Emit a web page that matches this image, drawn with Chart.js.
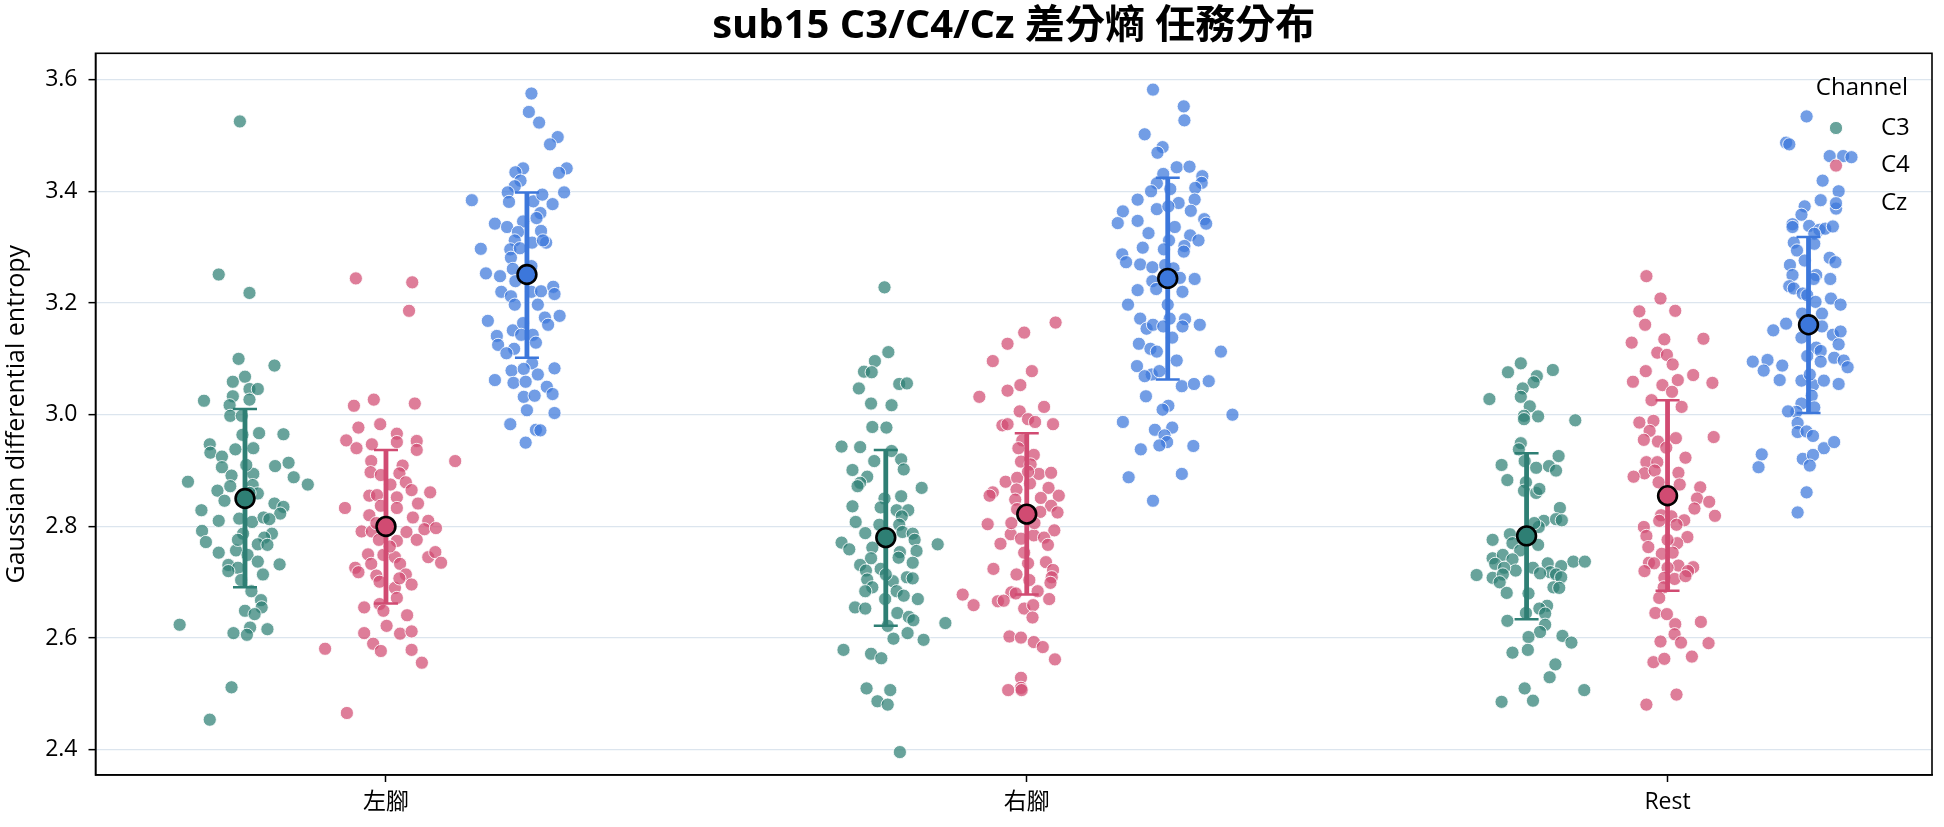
<!DOCTYPE html>
<html><head><meta charset="utf-8">
<script src="https://cdn.jsdelivr.net/npm/chart.js@4.4.1/dist/chart.umd.min.js"></script>
<style>html,body{margin:0;padding:0;background:#fff;}</style>
</head><body>
<canvas id="c" width="1944" height="827"></canvas>
<script>
// ---------------- data ----------------
const categories = ['左腳', '右腳', 'Rest'];
const channels = ['C3', 'C4', 'Cz'];
const yTicks = [2.4, 2.6, 2.8, 3.0, 3.2, 3.4, 3.6];
const titleText = 'sub15 C3/C4/Cz 差分熵 任務分布';
const yLabel = 'Gaussian differential entropy';
const legendTitle = 'Channel';

// each point: [jitter offset (category units), value]
const leftC3 = [
[-0.008,3.525],[-0.041,3.251],[0.007,3.218],[-0.010,3.100],[0.046,3.088],[-0.019,3.059],[0,3.068],[0.007,3.046],[0.020,3.046],[-0.019,3.033],
[-0.064,3.025],[-0.024,3.017],[0.007,3.027],[-0.023,2.998],[-0.005,2.998],[-0.004,2.964],[0.022,2.967],[0.060,2.965],[-0.055,2.947],[-0.054,2.932],
[-0.036,2.925],[-0.015,2.938],[0.013,2.940],[-0.036,2.906],[0.047,2.908],[0.068,2.914],[-0.089,2.880],[-0.021,2.891],[0.013,2.894],[0.076,2.888],
[0.098,2.875],[-0.043,2.864],[-0.023,2.872],[0.012,2.874],[0.020,2.859],[-0.032,2.846],[-0.068,2.829],[0.046,2.841],[0.060,2.835],[0.055,2.823],
[-0.041,2.810],[-0.009,2.814],[0.011,2.808],[0.029,2.816],[0.038,2.813],[-0.067,2.792],[-0.061,2.772],[-0.003,2.787],[0.042,2.787],[0.030,2.780],
[0.020,2.768],[0.035,2.767],[-0.041,2.753],[-0.014,2.757],[0.004,2.749],[0.020,2.737],[0.054,2.732],[-0.026,2.731],[-0.011,2.726],[-0.026,2.720],
[0.028,2.714],[-0.006,2.704],[0.010,2.684],[0.025,2.668],[0,2.649],[0.026,2.655],[0.015,2.643],[-0.102,2.624],[0.008,2.619],[-0.018,2.609],
[0.003,2.606],[0.035,2.616],[-0.021,2.512],[-0.055,2.454],[-0.011,2.776],[0.002,2.910],[0.007,2.860]
];
const leftC4 = [
[-0.047,3.244],[0.041,3.237],[0.036,3.186],[-0.050,3.016],[-0.019,3.027],[0.045,3.020],[-0.043,2.977],[-0.009,2.983],[0.017,2.966],[-0.062,2.954],
[-0.046,2.940],[-0.022,2.947],[0.017,2.951],[0.048,2.953],[0.048,2.937],[-0.023,2.917],[0.108,2.917],[0.026,2.909],[-0.024,2.897],[-0.008,2.892],
[0.021,2.895],[0.031,2.879],[0.007,2.875],[0.040,2.865],[0.069,2.861],[-0.026,2.855],[-0.014,2.856],[0.017,2.852],[-0.064,2.833],[-0.008,2.837],
[0.017,2.833],[0.050,2.841],[-0.026,2.820],[0.042,2.816],[0.066,2.810],[-0.038,2.791],[-0.022,2.791],[0.032,2.790],[0.060,2.795],[0.078,2.797],
[-0.011,2.776],[0.017,2.774],[0.048,2.776],[-0.028,2.750],[-0.004,2.749],[0.014,2.745],[0.066,2.745],[0.077,2.754],[0.086,2.735],[-0.023,2.733],
[-0.048,2.726],[-0.043,2.718],[0.022,2.733],[-0.015,2.712],[0.031,2.714],[-0.010,2.701],[0.040,2.696],[0.014,2.690],[0.017,2.672],[-0.034,2.655],
[-0.010,2.661],[-0.004,2.649],[0.033,2.641],[0.001,2.622],[-0.034,2.609],[0.022,2.608],[0.040,2.612],[-0.095,2.581],[-0.020,2.590],[-0.008,2.577],
[0.040,2.579],[0.056,2.556],[-0.061,2.466],[0.006,2.764],[-0.015,2.806],[0.021,2.707]
];
const leftCz = [
[0.007,3.575],[0.003,3.542],[0.019,3.523],[0.048,3.497],[0.036,3.484],[-0.006,3.441],[0.062,3.441],[-0.018,3.434],[0.050,3.433],[-0.010,3.419],
[-0.019,3.409],[-0.086,3.384],[-0.030,3.398],[-0.028,3.381],[0.058,3.398],[0.010,3.382],[0.024,3.394],[0.040,3.377],[0.021,3.361],[0.015,3.352],
[-0.050,3.342],[-0.031,3.336],[-0.006,3.346],[0.022,3.329],[0.030,3.308],[-0.014,3.327],[0.008,3.308],[-0.019,3.312],[-0.026,3.296],[-0.011,3.298],
[-0.072,3.297],[-0.025,3.281],[-0.022,3.261],[-0.064,3.253],[-0.042,3.248],[-0.018,3.239],[-0.040,3.220],[-0.025,3.212],[0.007,3.220],[0.022,3.221],
[0.041,3.229],[0.043,3.216],[0.017,3.197],[-0.061,3.168],[0.028,3.174],[0.051,3.177],[0.033,3.161],[-0.047,3.141],[-0.045,3.125],[-0.022,3.151],
[-0.006,3.164],[-0.009,3.143],[0.009,3.143],[0.014,3.129],[-0.020,3.118],[-0.032,3.110],[0.008,3.092],[-0.024,3.079],[-0.005,3.082],[0.017,3.072],
[0.043,3.083],[-0.050,3.062],[-0.021,3.057],[-0.002,3.059],[0.031,3.050],[0.040,3.037],[-0.005,3.032],[0.012,3.034],[0,3.008],[0.043,3.003],
[-0.026,2.983],[0.014,2.973],[0.021,2.972],[-0.002,2.950],[-0.019,3.197],[0.007,3.266],[0.025,3.312]
];
const rightC3 = [
[-0.002,3.228],[0.004,3.112],[-0.017,3.096],[-0.034,3.077],[-0.022,3.076],[-0.042,3.047],[0.021,3.055],[0.033,3.056],[-0.023,3.020],[0.009,3.017],
[-0.021,2.978],[0.001,2.977],[-0.069,2.943],[-0.040,2.942],[0.009,2.935],[-0.018,2.917],[0.024,2.920],[0.028,2.902],[-0.052,2.901],[-0.029,2.889],
[-0.040,2.878],[-0.044,2.872],[0.056,2.869],[0.024,2.854],[-0.002,2.850],[-0.008,2.834],[-0.052,2.836],[0.017,2.829],[0.035,2.829],[0.025,2.818],
[-0.047,2.808],[0.021,2.803],[-0.032,2.788],[0.026,2.790],[0.042,2.787],[-0.069,2.771],[-0.057,2.759],[0.081,2.768],[0.045,2.776],[-0.021,2.762],
[0.022,2.754],[0.048,2.756],[-0.023,2.743],[0.020,2.744],[-0.040,2.731],[0.042,2.735],[-0.031,2.721],[-0.008,2.724],[0.033,2.709],[-0.029,2.705],
[0.011,2.702],[0.042,2.707],[-0.021,2.691],[0.017,2.684],[-0.032,2.684],[0.028,2.676],[0.050,2.670],[-0.048,2.655],[-0.032,2.653],[-0.001,2.670],
[0.018,2.645],[0.036,2.638],[0.043,2.632],[0.093,2.627],[0.003,2.622],[0.034,2.609],[0.012,2.599],[0.059,2.597],[-0.066,2.579],[-0.023,2.572],
[-0.007,2.564],[-0.030,2.510],[0.007,2.507],[-0.013,2.487],[0.003,2.481],[0.022,2.396],[0,2.714],[-0.010,2.803]
];
const rightC4 = [
[0.045,3.165],[-0.004,3.147],[-0.030,3.127],[-0.053,3.096],[0.008,3.078],[-0.074,3.032],[-0.030,3.043],[-0.010,3.053],[-0.011,3.006],[0.027,3.014],
[-0.038,2.981],[-0.030,2.983],[0.002,2.992],[0.013,2.987],[0.041,2.983],[-0.007,2.954],[-0.013,2.940],[0.011,2.928],[-0.009,2.916],[0.006,2.911],
[0.019,2.894],[0.038,2.896],[-0.033,2.880],[-0.015,2.887],[0.005,2.877],[-0.053,2.861],[-0.058,2.855],[-0.016,2.866],[0.034,2.869],[0.050,2.855],
[0.022,2.851],[-0.018,2.848],[0.038,2.837],[0.048,2.825],[-0.015,2.831],[0.021,2.826],[-0.061,2.804],[0.043,2.793],[-0.025,2.786],[0.011,2.784],
[0.027,2.780],[-0.041,2.769],[-0.009,2.778],[0.033,2.767],[0.002,2.734],[0.030,2.736],[-0.052,2.724],[-0.016,2.714],[0.041,2.722],[0.039,2.709],
[0.004,2.704],[0.037,2.699],[-0.024,2.682],[0.017,2.684],[-0.017,2.680],[0.035,2.670],[-0.100,2.678],[-0.083,2.659],[-0.045,2.666],[-0.036,2.667],
[-0.004,2.653],[0.010,2.659],[0.009,2.637],[-0.027,2.603],[-0.009,2.601],[0.011,2.593],[0.025,2.584],[0.044,2.562],[-0.009,2.529],[-0.029,2.507],
[-0.009,2.511],[-0.008,2.507],[0.002,2.898],[-0.004,2.753],[0.012,2.806],[-0.024,2.806]
];
const rightCz = [
[-0.023,3.582],[0.025,3.552],[0.026,3.527],[-0.036,3.502],[-0.008,3.479],[-0.016,3.469],[0.014,3.443],[0.034,3.444],[-0.007,3.431],[0.054,3.427],
[0.053,3.415],[-0.017,3.414],[-0.026,3.400],[0.004,3.404],[0.043,3.406],[-0.047,3.385],[0.017,3.379],[0.042,3.385],[-0.070,3.364],[-0.017,3.368],
[0.001,3.373],[0.036,3.365],[-0.078,3.343],[-0.047,3.347],[0.057,3.350],[0.060,3.342],[0.011,3.336],[-0.030,3.325],[0.035,3.321],[0.048,3.312],
[0.002,3.312],[-0.039,3.299],[0.026,3.302],[0.025,3.292],[-0.071,3.287],[-0.065,3.273],[-0.043,3.269],[-0.024,3.264],[-0.004,3.268],[0.009,3.262],
[0.042,3.243],[-0.024,3.239],[0.019,3.245],[-0.018,3.225],[-0.047,3.223],[0.023,3.220],[-0.062,3.197],[-0.043,3.172],[0.003,3.172],[0.027,3.171],
[0.050,3.161],[-0.033,3.154],[-0.023,3.161],[-0.007,3.158],[0.023,3.158],[0.007,3.138],[-0.045,3.127],[-0.027,3.118],[-0.017,3.113],[0.083,3.113],
[0.014,3.097],[-0.048,3.087],[-0.025,3.072],[-0.013,3.078],[-0.036,3.069],[0.022,3.051],[0.041,3.055],[0.064,3.060],[-0.034,3.033],[0.001,3.016],
[-0.008,3.009],[0.101,3.000],[-0.070,2.987],[-0.020,2.973],[0.007,2.977],[-0.005,2.963],[-0.001,2.951],[-0.013,2.945],[0.040,2.944],[-0.042,2.938],
[-0.061,2.888],[0.022,2.894],[-0.023,2.846],[0,3.197],[-0.006,3.296]
];
const restC3 = [
[-0.009,3.092],[-0.029,3.076],[0.041,3.080],[0.016,3.069],[0.011,3.058],[-0.006,3.047],[-0.058,3.028],[-0.009,3.032],[0.005,3.015],[-0.004,2.998],
[0.018,2.997],[-0.004,2.992],[0.076,2.990],[-0.009,2.949],[-0.012,2.938],[0.050,2.926],[-0.039,2.910],[-0.003,2.917],[0.015,2.905],[0.035,2.908],
[0.046,2.900],[-0.030,2.883],[-0.001,2.879],[-0.004,2.864],[0.015,2.860],[0.020,2.867],[0.052,2.833],[0.027,2.810],[0.046,2.813],[0.055,2.811],
[0.019,2.799],[-0.026,2.786],[-0.053,2.776],[-0.022,2.770],[0.018,2.767],[-0.010,2.757],[-0.053,2.743],[-0.037,2.749],[-0.022,2.741],[0.073,2.737],
[0.091,2.737],[0.033,2.734],[-0.049,2.733],[-0.017,2.721],[0.010,2.726],[-0.035,2.726],[0.054,2.729],[-0.078,2.713],[-0.053,2.708],[-0.037,2.714],
[0.037,2.718],[0.046,2.714],[0.021,2.716],[0.054,2.709],[-0.042,2.700],[0.042,2.691],[0.051,2.690],[-0.031,2.681],[0.003,2.680],[0.032,2.658],
[0.020,2.653],[0.029,2.644],[-0.030,2.631],[-0.001,2.645],[0.029,2.624],[0.021,2.611],[0.056,2.604],[0.003,2.602],[0.070,2.592],[-0.022,2.574],
[0.002,2.579],[0.045,2.553],[0.036,2.530],[-0.003,2.510],[0.090,2.507],[-0.039,2.486],[0.010,2.488],[0.012,2.806]
];
const restC4 = [
[-0.033,3.248],[-0.011,3.208],[-0.044,3.185],[0.012,3.186],[-0.035,3.161],[-0.056,3.129],[-0.005,3.135],[0.056,3.136],[-0.016,3.111],[-0.001,3.107],
[0.008,3.090],[-0.034,3.078],[0.040,3.071],[-0.054,3.059],[0.016,3.062],[0.070,3.057],[-0.008,3.053],[0.007,3.041],[-0.025,3.026],[0.022,3.014],
[-0.044,2.986],[-0.022,2.989],[-0.028,2.971],[-0.037,2.955],[-0.015,2.952],[0.013,2.958],[0.072,2.960],[-0.002,2.941],[0.028,2.923],[-0.033,2.915],
[-0.016,2.915],[-0.036,2.895],[-0.020,2.900],[-0.053,2.889],[-0.014,2.879],[0.017,2.896],[0.019,2.875],[0.051,2.870],[0.046,2.850],[0.065,2.844],
[0.042,2.832],[0.074,2.819],[-0.010,2.820],[-0.013,2.810],[0.006,2.818],[0.026,2.811],[-0.037,2.799],[-0.033,2.783],[0.014,2.803],[0.031,2.781],
[-0.030,2.763],[0.015,2.770],[-0.009,2.751],[0.017,2.730],[-0.029,2.735],[-0.021,2.734],[-0.036,2.720],[0,2.726],[0.040,2.727],[0.032,2.720],
[-0.005,2.708],[0.011,2.706],[0.028,2.711],[-0.006,2.691],[-0.013,2.672],[-0.019,2.645],[-0.001,2.643],[0.012,2.625],[0.052,2.629],[0.011,2.607],
[-0.011,2.594],[0.021,2.592],[0.064,2.591],[0.038,2.567],[-0.022,2.557],[-0.005,2.563],[0.014,2.499],[-0.033,2.481],[0,2.776],[0.008,2.753]
];
const restCz = [
[-0.003,3.534],[-0.035,3.487],[-0.030,3.484],[0.033,3.463],[0.054,3.463],[0.067,3.461],[0.022,3.419],[0.047,3.400],[0.019,3.384],[0.043,3.369],
[-0.006,3.373],[-0.011,3.358],[-0.025,3.341],[-0.025,3.336],[0.001,3.338],[0.017,3.331],[0.026,3.333],[0.038,3.337],[0.009,3.324],[-0.023,3.308],
[-0.018,3.294],[0.009,3.306],[0.033,3.281],[0.042,3.273],[-0.006,3.276],[-0.029,3.268],[-0.025,3.250],[0.012,3.250],[0.008,3.243],[0.034,3.243],
[-0.030,3.230],[-0.023,3.226],[-0.009,3.217],[-0.002,3.214],[0.011,3.202],[0.035,3.208],[0.050,3.197],[-0.035,3.163],[-0.055,3.151],[0.021,3.181],
[-0.010,3.181],[0.021,3.158],[0.038,3.143],[0.050,3.149],[0.047,3.126],[-0.011,3.138],[0.012,3.120],[0.019,3.114],[-0.002,3.105],[-0.087,3.095],
[-0.064,3.098],[-0.070,3.079],[-0.041,3.088],[0.019,3.095],[0.040,3.102],[0.055,3.097],[0.061,3.085],[-0.045,3.062],[-0.011,3.061],[0.007,3.053],
[0.024,3.061],[0.047,3.055],[0.002,3.072],[0.005,3.034],[-0.011,3.020],[-0.019,3.005],[-0.032,3.006],[0.009,3.013],[-0.017,2.985],[-0.017,2.969],
[-0.003,2.970],[0.007,2.962],[0.024,2.940],[0.040,2.951],[-0.073,2.929],[-0.078,2.906],[-0.009,2.921],[0.007,2.928],[0.002,2.909],[-0.003,2.861],
[-0.017,2.825]
];

// group means and error-bar ends (per category: 左腳, 右腳, Rest)
const meanC3 = [2.850, 2.780, 2.783];
const lowC3  = [2.691, 2.622, 2.634];
const highC3 = [3.010, 2.937, 2.931];
const meanC4 = [2.800, 2.822, 2.855];
const lowC4  = [2.662, 2.678, 2.685];
const highC4 = [2.937, 2.967, 3.026];
const meanCz = [3.251, 3.244, 3.161];
const lowCz  = [3.102, 3.063, 3.003];
const highCz = [3.398, 3.424, 3.318];

// ---------------- styling ----------------
const FONT = "'Open Sans','Noto Sans CJK TC',sans-serif";
const hueOffset = {C3: -0.22, C4: 0, Cz: 0.22};
const baseColor = {C3: '#2e7f74', C4: '#d14b72', Cz: '#3c77db'};
const pointColor = {C3: 'rgba(46,127,116,0.72)', C4: 'rgba(209,75,114,0.72)', Cz: 'rgba(60,119,219,0.72)'};
const strips = {C3: [leftC3, rightC3, restC3], C4: [leftC4, rightC4, restC4], Cz: [leftCz, rightCz, restCz]};
const means = {C3: meanC3, C4: meanC4, Cz: meanCz};
const lows = {C3: lowC3, C4: lowC4, Cz: lowCz};
const highs = {C3: highC3, C4: highC4, Cz: highCz};

Chart.defaults.font.family = FONT;
Chart.defaults.color = '#000';

function stripPoints(ch) {
  const out = [];
  strips[ch].forEach((grp, ci) => grp.forEach(([j, v]) => out.push({x: ci + hueOffset[ch] + j, y: v})));
  return out;
}
const meanPts = [], meanColors = [];
channels.forEach(ch => categories.forEach((c, ci) => {
  meanPts.push({x: ci + hueOffset[ch], y: means[ch][ci]});
  meanColors.push(baseColor[ch]);
}));

const datasets = [{
  label: 'mean', data: meanPts, pointRadius: 9.4, pointHoverRadius: 9.4,
  pointBackgroundColor: meanColors, pointBorderColor: '#000', pointBorderWidth: 2.6
}];
channels.forEach(ch => datasets.push({
  label: ch, data: stripPoints(ch), pointRadius: 6.6, pointHoverRadius: 6.6,
  pointBackgroundColor: pointColor[ch], pointBorderColor: 'rgba(255,255,255,0.95)', pointBorderWidth: 0.9
}));

const extras = {
  id: 'extras',
  beforeDatasetDraw(chart, args) {
    if (args.index !== 0) return;
    const {ctx, scales: {x, y}} = chart;
    ctx.save();
    channels.forEach(ch => categories.forEach((c, ci) => {
      const px = x.getPixelForValue(ci + hueOffset[ch]);
      const pl = y.getPixelForValue(lows[ch][ci]);
      const ph = y.getPixelForValue(highs[ch][ci]);
      ctx.strokeStyle = baseColor[ch];
      ctx.lineWidth = 4.8;
      ctx.beginPath(); ctx.moveTo(px, pl); ctx.lineTo(px, ph); ctx.stroke();
      ctx.lineWidth = 2.5;
      ctx.beginPath();
      ctx.moveTo(px - 12, pl); ctx.lineTo(px + 12, pl);
      ctx.moveTo(px - 12, ph); ctx.lineTo(px + 12, ph);
      ctx.stroke();
    }));
    ctx.restore();
  },
  afterDraw(chart) {
    const {ctx, chartArea: a} = chart;
    ctx.save();
    // frame
    ctx.strokeStyle = '#000'; ctx.lineWidth = 1.6;
    ctx.strokeRect(a.left, a.top, a.right - a.left, a.bottom - a.top);
    // title
    ctx.fillStyle = '#000';
    ctx.font = "bold 40px " + FONT;
    ctx.textAlign = 'center'; ctx.textBaseline = 'middle';
    ctx.fillText(titleText, (a.left + a.right) / 2, 27);
    // legend
    ctx.font = "24px " + FONT;
    ctx.textAlign = 'right';
    ctx.fillText(legendTitle, a.right - 24, 88);
    ctx.textAlign = 'left';
    channels.forEach((ch, i) => {
      const yy = 128 + i * 37.6;
      ctx.beginPath(); ctx.arc(a.right - 96, yy, 6.6, 0, Math.PI * 2);
      ctx.fillStyle = pointColor[ch]; ctx.fill();
      ctx.strokeStyle = '#fff'; ctx.lineWidth = 0.9; ctx.stroke();
      ctx.fillStyle = '#000';
      ctx.fillText(ch, a.right - 51, yy);
    });
    ctx.restore();
  }
};

new Chart(document.getElementById('c'), {
  type: 'scatter',
  data: {datasets},
  plugins: [extras],
  options: {
    responsive: false, animation: false, devicePixelRatio: 1,
    layout: {padding: {left: 0, right: 10, top: 53.3, bottom: 0}},
    plugins: {legend: {display: false}, title: {display: false}, tooltip: {enabled: false}},
    scales: {
      x: {
        type: 'linear', min: -0.4533, max: 2.4127,
        afterBuildTicks: s => { s.ticks = categories.map((c, i) => ({value: i})); },
        afterFit: s => { s.height = 52; },
        ticks: {autoSkip: false, padding: 7, font: {size: 23}, color: '#000',
                callback: v => categories[v]},
        grid: {drawOnChartArea: false, drawTicks: true, tickLength: 7, tickColor: '#000', tickWidth: 1.5},
        border: {display: true, color: '#000', width: 1.6}
      },
      y: {
        min: 2.355, max: 3.647,
        afterBuildTicks: s => { s.ticks = yTicks.map(v => ({value: v})); },
        afterFit: s => { s.width = 95.5; },
        ticks: {padding: 11, font: {size: 23}, color: '#000', callback: v => Number(v).toFixed(1)},
        grid: {color: '#dce5ee', lineWidth: 1.3, drawTicks: true, tickLength: 7, tickColor: '#000', tickWidth: 1.5},
        border: {display: true, color: '#000', width: 1.6},
        title: {display: true, text: yLabel, font: {size: 25}, color: '#000', padding: {top: 2, bottom: 0}}
      }
    }
  }
});
</script>
</body></html>
